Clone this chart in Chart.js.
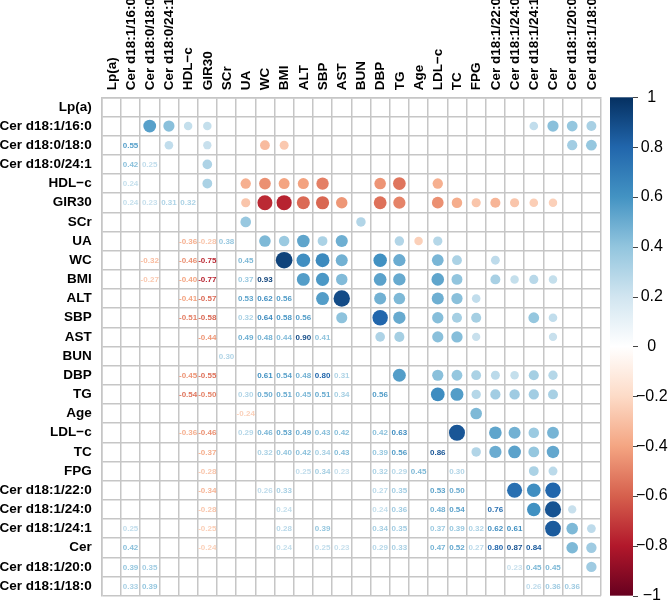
<!DOCTYPE html>
<html>
<head>
<meta charset="utf-8">
<script src="https://cdn.jsdelivr.net/npm/chart.js@4.4.1/dist/chart.umd.min.js"></script>
<style>
  body { margin: 0; background: #ffffff; }
  #wrap { position: relative; width: 669px; height: 604px; }
</style>
</head>
<body>
<div id="wrap"><canvas id="myChart"></canvas></div>
<script>
const MINUS = '\u2212';
const _ = null;

let varNames = ['Lp(a)', 'Cer d18:1/16:0', 'Cer d18:0/18:0', 'Cer d18:0/24:1', 'HDL' + MINUS + 'c', 'GIR30',
  'SCr', 'UA', 'WC', 'BMI', 'ALT', 'SBP', 'AST', 'BUN', 'DBP', 'TG', 'Age', 'LDL' + MINUS + 'c', 'TC', 'FPG',
  'Cer d18:1/22:0', 'Cer d18:1/24:0', 'Cer d18:1/24:1', 'Cer', 'Cer d18:1/20:0', 'Cer d18:1/18:0'];

// lower triangle of the correlation matrix, row i holds columns 0..i-1 (null = not significant)
let corrLower = [
  [],
  [_],
  [_, 0.55],
  [_, 0.42, 0.25],
  [_, 0.24, _, _],
  [_, 0.24, 0.23, 0.31, 0.32],
  [_, _, _, _, _, _],
  [_, _, _, _, -0.36, -0.28, 0.38],
  [_, _, -0.32, _, -0.46, -0.75, _, 0.45],
  [_, _, -0.27, _, -0.40, -0.77, _, 0.37, 0.93],
  [_, _, _, _, -0.41, -0.57, _, 0.53, 0.62, 0.56],
  [_, _, _, _, -0.51, -0.58, _, 0.32, 0.64, 0.58, 0.56],
  [_, _, _, _, _, -0.44, _, 0.49, 0.48, 0.44, 0.90, 0.41],
  [_, _, _, _, _, _, 0.30, _, _, _, _, _, _],
  [_, _, _, _, -0.45, -0.55, _, _, 0.61, 0.54, 0.48, 0.80, 0.31, _],
  [_, _, _, _, -0.54, -0.50, _, 0.30, 0.50, 0.51, 0.45, 0.51, 0.34, _, 0.56],
  [_, _, _, _, _, _, _, -0.24, _, _, _, _, _, _, _, _],
  [_, _, _, _, -0.36, -0.46, _, 0.29, 0.46, 0.53, 0.49, 0.43, 0.42, _, 0.42, 0.63, _],
  [_, _, _, _, _, -0.37, _, _, 0.32, 0.40, 0.42, 0.34, 0.43, _, 0.39, 0.56, _, 0.86],
  [_, _, _, _, _, -0.28, _, _, _, _, 0.25, 0.34, 0.23, _, 0.32, 0.29, 0.45, _, 0.30],
  [_, _, _, _, _, -0.34, _, _, 0.26, 0.33, _, _, _, _, 0.27, 0.35, _, 0.53, 0.50, _],
  [_, _, _, _, _, -0.28, _, _, _, 0.24, _, _, _, _, 0.24, 0.36, _, 0.48, 0.54, _, 0.76],
  [_, 0.25, _, _, _, -0.25, _, _, _, 0.28, _, 0.39, _, _, 0.34, 0.35, _, 0.37, 0.39, 0.32, 0.62, 0.61],
  [_, 0.42, _, _, _, -0.24, _, _, _, 0.24, _, 0.25, 0.23, _, 0.29, 0.33, _, 0.47, 0.52, 0.27, 0.80, 0.87, 0.84],
  [_, 0.39, 0.35, _, _, _, _, _, _, _, _, _, _, _, _, _, _, _, _, _, _, 0.23, 0.45, 0.45],
  [_, 0.33, 0.39, _, _, _, _, _, _, _, _, _, _, _, _, _, _, _, _, _, _, _, 0.26, 0.36, 0.36]
];

let colorStops = ['#67001F', '#B2182B', '#D6604D', '#F4A582', '#FDDBC7', '#FFFFFF',
  '#D1E5F0', '#92C5DE', '#4393C3', '#2166AC', '#053061'];
let barMin = -1, barMax = 1, barStep = 0.2;

function hexToRgb(h) {
  return [parseInt(h.slice(1, 3), 16), parseInt(h.slice(3, 5), 16), parseInt(h.slice(5, 7), 16)];
}
function corrColor(v) {
  let t = (v + 1) / 2 * (colorStops.length - 1);
  let i = Math.min(Math.floor(t), colorStops.length - 2);
  let f = t - i;
  let a = hexToRgb(colorStops[i]), b = hexToRgb(colorStops[i + 1]);
  let c = a.map((x, k) => Math.round(x + (b[k] - x) * f));
  return 'rgb(' + c.join(',') + ')';
}

// circles for the upper triangle (mirror of the lower one)
let circles = [];
corrLower.forEach((row, i) => row.forEach((v, j) => {
  if (v !== null) circles.push({ x: varNames[i], y: varNames[j], v: v });
}));

const FONT = '"Liberation Sans", Arial, sans-serif';
const gridColor = '#c6c6c6';

function circleRadius(c) {
  const area = c.chart.chartArea;
  const cell = area ? (area.right - area.left) / varNames.length : 19.2;
  return cell * 0.45 * Math.sqrt(Math.abs(c.raw.v));
}

const extras = {
  id: 'corrExtras',
  afterDatasetsDraw(chart) {
    const ctx = chart.ctx;
    const xs = chart.scales.x, ys = chart.scales.y;
    ctx.save();

    // numbers in the lower triangle
    ctx.font = 'bold 8px ' + FONT;
    ctx.textAlign = 'center';
    ctx.textBaseline = 'middle';
    corrLower.forEach((row, i) => row.forEach((v, j) => {
      if (v === null) return;
      ctx.fillStyle = corrColor(v);
      ctx.fillText(v.toFixed(2), xs.getPixelForValue(j), ys.getPixelForValue(i) + 0.5);
    }));

    // column labels, vertical, reading upwards
    ctx.font = 'bold 13.5px ' + FONT;
    ctx.fillStyle = '#000';
    ctx.textAlign = 'left';
    varNames.forEach((name, j) => {
      ctx.save();
      ctx.translate(xs.getPixelForValue(j) + 0.5, xs.bottom - 7);
      ctx.rotate(-Math.PI / 2);
      ctx.fillText(name, 0, 0);
      ctx.restore();
    });

    // colour bar
    const cb = chart.scales.cbar;
    const top = cb.getPixelForValue(barMax), bot = cb.getPixelForValue(barMin);
    const x0 = cb.left + 9, w = 23;
    const grad = ctx.createLinearGradient(0, bot, 0, top);
    colorStops.forEach((c, k) => grad.addColorStop(k / (colorStops.length - 1), c));
    ctx.fillStyle = grad;
    ctx.fillRect(x0, top, w, bot - top);
    ctx.strokeStyle = '#444';
    ctx.lineWidth = 1;
    cb.ticks.forEach(t => {
      const y = Math.round(cb.getPixelForValue(t.value)) + 0.5;
      ctx.beginPath();
      ctx.moveTo(x0 + w, y);
      ctx.lineTo(x0 + w + 5, y);
      ctx.stroke();
    });
    ctx.restore();
  }
};

let myChart = document.getElementById('myChart').getContext('2d');

let chart = new Chart(myChart, {
  type: 'scatter',
  data: {
    datasets: [{
      data: circles,
      pointBackgroundColor: c => corrColor(c.raw.v),
      pointBorderWidth: 0,
      pointBorderColor: 'rgba(0,0,0,0)',
      pointRadius: circleRadius,
      pointHoverRadius: circleRadius
    }]
  },
  plugins: [extras],
  options: {
    responsive: true,
    maintainAspectRatio: false,
    animation: false,
    events: [],
    layout: { padding: { left: 0, top: 0, right: 0, bottom: 7.7 } },
    plugins: {
      legend: { display: false },
      tooltip: { enabled: false }
    },
    scales: {
      x: {
        type: 'category',
        labels: varNames,
        position: 'top',
        offset: true,
        grid: { offset: true, color: gridColor, lineWidth: 1.5, drawTicks: false },
        border: { display: true, color: gridColor, width: 1.5 },
        ticks: { display: false },
        afterFit: s => { s.height = 97.3; s.paddingLeft = 0; s.paddingRight = 0; }
      },
      y: {
        type: 'category',
        labels: varNames,
        offset: true,
        grid: { offset: true, color: gridColor, lineWidth: 1.5, drawTicks: false },
        border: { display: true, color: gridColor, width: 1.5 },
        ticks: {
          autoSkip: false, padding: 10,
          color: '#000', font: { family: FONT, size: 13.5, weight: 'bold' }
        },
        afterFit: s => { s.width = 101.7; s.paddingTop = 0; s.paddingBottom = 0; }
      },
      cbar: {
        type: 'linear',
        position: 'right',
        min: barMin,
        max: barMax,
        grid: { display: false, drawTicks: false },
        border: { display: false },
        ticks: {
          stepSize: barStep, padding: 35, crossAlign: 'center',
          color: '#000', font: { family: FONT, size: 16 },
          callback: v => {
            const r = Math.round(v * 10) / 10;
            if (r === 0) return '0';
            return (r < 0 ? MINUS : '') + String(Math.abs(r));
          }
        },
        afterFit: s => { s.width = 68; s.paddingTop = 0; s.paddingBottom = 0; }
      }
    }
  }
});
</script>
</body>
</html>
